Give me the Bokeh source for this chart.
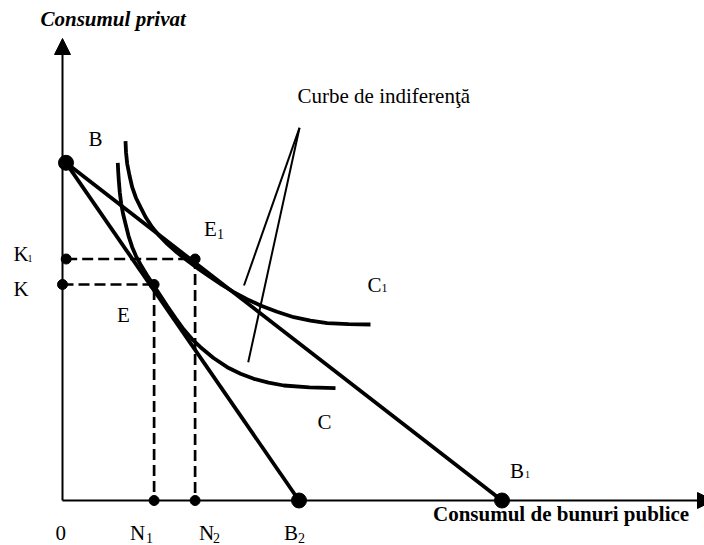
from bokeh.plotting import figure
from bokeh.models import Range1d, Arrow, NormalHead
from bokeh.core.properties import value
from bokeh.embed import file_html
from bokeh.resources import INLINE

# ---- data (arbitrary diagram units, origin at 0) ----
B_x = 0.35        # point B sits on the vertical axis
B = 33.77         # private consumption intercept (point B)
B2 = 23.65        # public goods intercept, first budget line
B1 = 43.95        # public goods intercept, second budget line
K = 21.6
K1 = 24.15
K1_x = 0.37
N1 = 9.16
N2 = 13.26
x_axis_end = 65.1
y_axis_end = 46.2

curve_C_x = [5.53, 5.57, 5.63, 5.73, 5.87, 6.06, 6.30, 6.60, 6.97, 7.36, 7.80, 8.44, 9.13, 9.80,
             10.47, 11.30, 12.13, 12.95, 13.80, 15.10, 16.47, 17.80, 19.13, 20.60, 22.13, 24.70, 27.30]
curve_C_y = [33.77, 32.9, 32.0, 30.8, 29.67, 28.65, 27.67, 26.47, 25.33, 24.42, 23.6, 22.55, 21.5, 20.48,
             19.45, 18.24, 17.1, 16.14, 15.33, 14.25, 13.33, 12.67, 12.17, 11.78, 11.5, 11.32, 11.23]

curve_C1_x = [6.30, 6.35, 6.47, 6.70, 6.97, 7.35, 7.80, 8.35, 8.97, 9.70, 10.47, 11.45, 12.47,
              13.60, 14.80, 15.95, 17.13, 18.45, 19.80, 21.45, 23.13, 24.80, 26.47, 28.60, 30.80]
curve_C1_y = [35.93, 34.83, 33.67, 32.5, 31.33, 30.25, 29.33, 28.27, 27.33, 26.45, 25.67, 24.8, 24.0,
              23.15, 22.33, 21.55, 20.83, 20.13, 19.5, 18.87, 18.33, 17.98, 17.73, 17.63, 17.6]

pointer_apex_x = 23.7
pointer_apex_y = 37.27
pointer_ends_x = [18.15, 18.57]
pointer_ends_y = [21.5, 13.83]

FONT = "Liberation Serif"

p = figure(width=704, height=545, output_backend="svg", toolbar_location=None,
           x_range=Range1d(-6.2, 64.2), y_range=Range1d(-4.5, 50.0),
           x_axis_location=None, y_axis_location=None, min_border=0)
p.grid.visible = False
p.outline_line_color = None
p.background_fill_color = "white"
p.border_fill_color = "white"

# axes with arrow heads
p.add_layout(Arrow(end=NormalHead(size=16, fill_color="black", line_color="black", line_width=1),
                   x_start=0, y_start=0, x_end=0, y_end=y_axis_end, line_width=2, line_color="black"))
p.add_layout(Arrow(end=NormalHead(size=16, fill_color="black", line_color="black", line_width=1),
                   x_start=0, y_start=0, x_end=x_axis_end, y_end=0, line_width=2, line_color="black"))

# dashed guides
p.line([K1_x, N2, N2], [K1, K1, 0], line_width=2.7, line_color="black", line_dash="11 5")
p.line([0, N1, N1], [K, K, 0], line_width=2.7, line_color="black", line_dash="11 5")

# budget lines
p.line([B_x, B2], [B, 0], line_width=3.8, line_color="black")
p.line([B_x, B1], [B, 0], line_width=3.8, line_color="black")

# indifference curves
p.line(curve_C_x, curve_C_y, line_width=3.8, line_color="black", line_join="round", line_cap="butt")
p.line(curve_C1_x, curve_C1_y, line_width=3.8, line_color="black", line_join="round", line_cap="butt")

# pointer lines
p.segment(x0=[pointer_apex_x] * 2, y0=[pointer_apex_y] * 2, x1=pointer_ends_x, y1=pointer_ends_y,
          line_width=2, line_color="black")

# dots
p.scatter([B_x, B2, B1], [B, 0, 0], size=15, color="black")
p.scatter([K1_x, 0, N1, N2, N1, N2], [K1, K, K, K1, 0, 0], size=10, color="black")


def label(x, y, t, size=21, dx=0, dy=0, style="normal"):
    shift = -0.38 * size  # baseline correction (screen px), scales with font size
    p.text(x=[x], y=[y], text=[t], x_offset=dx, y_offset=dy + shift,
           text_font=value(FONT), text_font_size=f"{size}px", text_font_style=style,
           text_color="black", text_align="left", text_baseline="alphabetic")

# titles
label(0, y_axis_end, "Consumul privat", size=21, dx=-22, dy=-12, style="bold italic")
label(B1, 0, "Consumul de bunuri publice", size=21, dx=-69, dy=21, style="bold")
label(pointer_apex_x, pointer_apex_y, "Curbe de indiferenţă", size=21, dx=-2, dy=-24)

# point labels
label(0, B, "B", dx=26, dy=-16)
label(N1, K, "E", dx=-37, dy=38)
label(N2, K1, "E", dx=9, dy=-22)
label(N2, K1, "1", size=14, dx=22, dy=-20)
label(0, K1, "K", dx=-49, dy=3)
label(0, K1, "1", size=10, dx=-35, dy=3)
label(0, K, "K", dx=-49, dy=12)
label(curve_C1_x[-1], curve_C1_y[-1], "C", dx=-3, dy=-32)
label(curve_C1_x[-1], curve_C1_y[-1], "1", size=12, dx=11, dy=-32)
label(curve_C_x[-1], curve_C_y[-1], "C", dx=-18, dy=42)
label(B1, 0, "B", dx=8, dy=-22)
label(B1, 0, "1", size=10, dx=23, dy=-22)
label(0, 0, "0", dx=-7, dy=40)
label(N1, 0, "N", dx=-24, dy=40)
label(N1, 0, "1", size=14, dx=-8, dy=43)
label(N2, 0, "N", dx=4, dy=40)
label(N2, 0, "2", size=14, dx=18, dy=43)
label(B2, 0, "B", dx=-15, dy=40)
label(B2, 0, "2", size=14, dx=-1, dy=43)

open("out.html", "w").write(file_html(p, INLINE))
